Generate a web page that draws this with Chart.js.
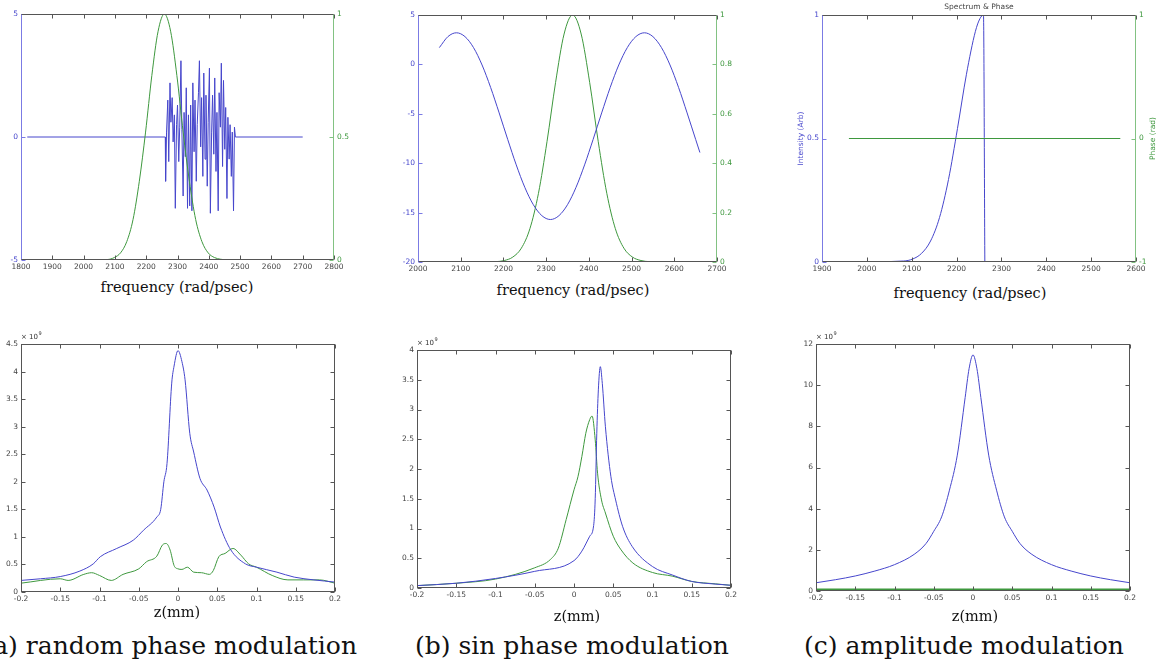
<!DOCTYPE html>
<html>
<head>
<meta charset="utf-8">
<title>Spectrum, phase and z-profile</title>
<script src="https://cdn.jsdelivr.net/npm/chart.js@4.4.1/dist/chart.umd.min.js"></script>
<style>
  body { margin: 0; background: #fff; width: 1156px; height: 668px; position: relative; overflow: hidden; }
  canvas { position: absolute; }
  .lab { position: absolute; width: 300px; text-align: center; font-family: "DejaVu Serif", serif; font-size: 14.5px; line-height: 15px; color: #111; white-space: nowrap; }
  .cap { position: absolute; font-family: "DejaVu Serif", serif; font-size: 25px; line-height: 25px; color: #111; white-space: nowrap; }
</style>
</head>
<body>
<canvas id="tl" width="360" height="275" style="left:0;top:0"></canvas>
<canvas id="tm" width="360" height="277" style="left:380px;top:0"></canvas>
<canvas id="tr" width="406" height="277" style="left:750px;top:0"></canvas>
<canvas id="bl" width="360" height="277" style="left:0;top:330px"></canvas>
<canvas id="bm" width="360" height="273" style="left:380px;top:330px"></canvas>
<canvas id="br" width="406" height="276" style="left:750px;top:330px"></canvas>

<div class="lab" style="left:27px;top:280px">frequency (rad/psec)</div>
<div class="lab" style="left:423px;top:283px">frequency (rad/psec)</div>
<div class="lab" style="left:820px;top:286px">frequency (rad/psec)</div>
<div class="lab" style="left:27px;top:605px">z(mm)</div>
<div class="lab" style="left:427px;top:609px">z(mm)</div>
<div class="lab" style="left:825px;top:609px">z(mm)</div>
<div class="cap" style="right:799px;top:633px">(a) random phase modulation</div>
<div class="cap" style="left:415px;top:633px">(b) sin phase modulation</div>
<div class="cap" style="left:804px;top:633px">(c) amplitude modulation</div>

<script>
// ---- (a) random phase: spectrum (right axis) and phase (left axis)
const aPhaseW = [1820, 2261, 2262, 2265, 2269, 2272, 2276, 2279, 2283, 2286, 2290, 2293, 2297, 2300, 2304, 2307, 2311, 2314, 2318, 2321, 2325, 2328, 2332, 2335, 2339, 2342, 2346, 2349, 2353, 2356, 2360, 2363, 2367, 2370, 2374, 2377, 2381, 2384, 2388, 2391, 2395, 2398, 2402, 2405, 2409, 2412, 2416, 2419, 2423, 2426, 2430, 2433, 2437, 2440, 2444, 2447, 2451, 2454, 2458, 2461, 2465, 2468, 2472, 2475, 2479, 2482, 2485, 2700];
const aPhaseV = [0, 0, -1.8, 0.2, 1.5, -1.0, 2.2, 0.6, 1.6, -0.2, 0.9, -2.9, 0.5, 1.3, -1.0, 0.4, 3.1, 0.3, -2.4, 1.0, -0.8, 2.0, -2.9, 0.9, -2.8, 1.3, -3.0, 2.2, -0.6, 1.5, -1.8, 0.5, 1.8, 3.1, -0.4, 1.6, -1.6, 2.6, -0.9, 1.7, -2.0, 0.6, 2.8, -3.1, 0.2, 1.7, -0.7, 2.4, -1.4, 1.0, -3.0, 1.8, 0.4, 3.0, -1.2, 2.3, -0.5, 1.2, -2.5, 0.8, -0.9, 0.5, -1.6, 0.2, -3.0, 0.4, 0, 0];
const aSpecW = [1820, 2076, 2098, 2118, 2138, 2158, 2178, 2198, 2218, 2238, 2258, 2278, 2298, 2318, 2338, 2358, 2378, 2398, 2418, 2438, 2466, 2700];
const aSpecV = [0, 0.002, 0.01, 0.029, 0.075, 0.165, 0.32, 0.52, 0.75, 0.93, 1, 0.93, 0.75, 0.52, 0.32, 0.165, 0.075, 0.029, 0.01, 0.003, 0, 0];

// ---- (b) sin phase
const bPhaseW = [2050, 2070, 2090, 2110, 2130, 2150, 2170, 2190, 2210, 2230, 2250, 2270, 2290, 2310, 2330, 2350, 2370, 2390, 2410, 2430, 2450, 2470, 2490, 2510, 2530, 2550, 2570, 2590, 2610, 2630, 2650, 2660];
const bPhaseV = [1.70, 2.81, 3.20, 2.81, 1.70, -0.06, -2.33, -4.91, -7.59, -10.17, -12.44, -14.20, -15.31, -15.70, -15.31, -14.20, -12.44, -10.17, -7.59, -4.91, -2.33, -0.06, 1.70, 2.81, 3.20, 2.81, 1.70, -0.06, -2.33, -4.91, -7.59, -8.92];
const bSpecW = [2050, 2182, 2202, 2222, 2242, 2262, 2282, 2302, 2322, 2342, 2362, 2382, 2402, 2422, 2442, 2462, 2482, 2502, 2522, 2542, 2670];
const bSpecV = [0, 0.0015, 0.006, 0.02, 0.056, 0.135, 0.278, 0.487, 0.726, 0.923, 1, 0.923, 0.726, 0.487, 0.278, 0.135, 0.056, 0.02, 0.006, 0.0015, 0];

// ---- (c) amplitude modulation
const cSpecW = [1960, 2082, 2102, 2122, 2142, 2162, 2182, 2202, 2222, 2242, 2252, 2260, 2263];
const cSpecV = [0, 0.004, 0.012, 0.035, 0.085, 0.18, 0.334, 0.54, 0.76, 0.934, 0.985, 1, 0];
const cPhaseW = [1960, 2565];
const cPhaseV = [0, 0];

// ---- z profiles (x 1e9)
const dBlueZ = [-0.2, -0.175, -0.15, -0.125, -0.108, -0.099, -0.078, -0.057, -0.044, -0.027, -0.022, -0.018, -0.014, -0.008, -0.005, 0, 0.005, 0.009, 0.015, 0.02, 0.028, 0.037, 0.046, 0.054, 0.067, 0.086, 0.1, 0.126, 0.148, 0.173, 0.2];
const dBlueV = [0.21, 0.24, 0.28, 0.38, 0.51, 0.64, 0.79, 0.94, 1.12, 1.36, 1.5, 2.0, 2.33, 3.79, 4.1, 4.38, 4.18, 3.85, 2.88, 2.54, 2.06, 1.85, 1.54, 1.18, 0.77, 0.51, 0.45, 0.36, 0.27, 0.22, 0.18];
const dGreenZ = [-0.2, -0.15, -0.14, -0.12, -0.11, -0.1, -0.085, -0.07, -0.05, -0.04, -0.027, -0.02, -0.015, -0.01, -0.005, 0, 0.005, 0.012, 0.02, 0.03, 0.04, 0.045, 0.052, 0.06, 0.07, 0.08, 0.09, 0.1, 0.12, 0.14, 0.16, 0.18, 0.2];
const dGreenV = [0.16, 0.24, 0.21, 0.32, 0.35, 0.30, 0.21, 0.32, 0.42, 0.55, 0.65, 0.85, 0.88, 0.76, 0.48, 0.42, 0.41, 0.45, 0.36, 0.35, 0.32, 0.39, 0.64, 0.70, 0.79, 0.67, 0.51, 0.45, 0.30, 0.22, 0.22, 0.22, 0.16];

const eBlueZ = [-0.2, -0.15, -0.1, -0.05, 0, 0.01, 0.02, 0.025, 0.027, 0.029, 0.031, 0.0335, 0.036, 0.04, 0.047, 0.053, 0.062, 0.074, 0.1, 0.125, 0.15, 0.176, 0.2];
const eBlueV = [0.04, 0.08, 0.16, 0.28, 0.46, 0.62, 0.87, 1.05, 1.5, 2.6, 3.33, 3.72, 3.44, 2.71, 1.87, 1.48, 1.03, 0.70, 0.36, 0.22, 0.11, 0.07, 0.045];
const eGreenZ = [-0.2, -0.15, -0.1, -0.05, -0.03, -0.02, -0.01, 0, 0.005, 0.01, 0.015, 0.02, 0.023, 0.027, 0.03, 0.035, 0.04, 0.05, 0.06, 0.075, 0.1, 0.125, 0.15, 0.18, 0.2];
const eGreenV = [0.04, 0.08, 0.15, 0.34, 0.48, 0.67, 1.15, 1.65, 1.87, 2.21, 2.6, 2.83, 2.89, 2.49, 1.93, 1.48, 1.26, 0.87, 0.64, 0.42, 0.26, 0.2, 0.11, 0.07, 0.045];

const fBlueZ = [-0.2, -0.175, -0.15, -0.125, -0.1, -0.075, -0.06, -0.05, -0.04, -0.03, -0.02, -0.01, -0.005, 0, 0.005, 0.01, 0.02, 0.03, 0.04, 0.05, 0.06, 0.075, 0.1, 0.125, 0.15, 0.175, 0.2];
const fBlueV = [0.40, 0.55, 0.73, 0.97, 1.28, 1.78, 2.3, 2.9, 3.6, 4.9, 6.6, 9.4, 10.8, 11.47, 10.8, 9.4, 6.6, 4.9, 3.6, 2.9, 2.3, 1.78, 1.28, 0.97, 0.73, 0.55, 0.40];
const fGreenZ = [-0.2, 0.2];
const fGreenV = [0.08, 0.08];

const BLUE = '#4646cc';
const GREEN = '#3e983e';
const AX_BLUE = '#7b7be4';
const AX_GREEN = '#82c282';
const AX = '#555';
const TICK_FONT = { family: '"DejaVu Sans", sans-serif', size: 7.5 };

const pts = (xs, ys) => xs.map((x, i) => ({ x, y: ys[i] }));
const fmt = v => String(Math.round(v * 1000) / 1000);

// box + inward ticks on all four sides, plus small annotations
function framePlugin(st) {
  return {
    id: 'frame',
    afterDraw(chart) {
      const { ctx, chartArea: a, scales } = chart;
      ctx.save();
      ctx.lineWidth = 1;
      const seg = (x1, y1, x2, y2, c) => {
        ctx.strokeStyle = c;
        ctx.beginPath(); ctx.moveTo(x1, y1); ctx.lineTo(x2, y2); ctx.stroke();
      };
      const L = Math.round(a.left) + 0.5, R = Math.round(a.right) - 0.5;
      const T = Math.round(a.top) + 0.5, B = Math.round(a.bottom) - 0.5;
      scales.x.ticks.forEach(t => {
        const px = Math.round(scales.x.getPixelForValue(t.value)) + 0.5;
        seg(px, B, px, B - 4, st.edgeB);
        seg(px, T, px, T + 4, st.edgeT);
      });
      scales.y.ticks.forEach(t => {
        const py = Math.round(scales.y.getPixelForValue(t.value)) + 0.5;
        seg(L, py, L + 4, py, st.edgeL);
        if (!scales.y2) seg(R, py, R - 4, py, st.edgeR);
      });
      if (scales.y2) {
        scales.y2.ticks.forEach(t => {
          const py = Math.round(scales.y2.getPixelForValue(t.value)) + 0.5;
          seg(R, py, R - 4, py, st.edgeR);
        });
      }
      seg(L - 0.5, T, R + 0.5, T, st.edgeT);
      seg(L - 0.5, B, R + 0.5, B, st.edgeB);
      seg(L, T, L, B, st.edgeL);
      seg(R, T, R, B, st.edgeR);

      (st.notes || []).forEach(n => {
        ctx.save();
        const size = n.size || 7.5;
        ctx.fillStyle = n.color || '#333';
        ctx.font = size + 'px "DejaVu Sans", sans-serif';
        ctx.textAlign = n.align || 'center';
        ctx.textBaseline = 'middle';
        const x = a.left + (n.fx || 0) * (a.right - a.left) + (n.dx || 0);
        const y = a.top + (n.fy || 0) * (a.bottom - a.top) + (n.dy || 0);
        ctx.translate(x, y);
        if (n.rot) ctx.rotate(n.rot);
        ctx.fillText(n.text, 0, 0);
        if (n.sup) {
          const w = ctx.measureText(n.text).width;
          ctx.font = (size - 2) + 'px "DejaVu Sans", sans-serif';
          ctx.textAlign = 'left';
          ctx.fillText(n.sup, w + 0.5, -3);
        }
        ctx.restore();
      });
      ctx.restore();
    }
  };
}

function axis(min, max, step, color, width, position) {
  return {
    type: 'linear', position, min, max,
    grid: { display: false, drawTicks: false }, border: { display: false },
    ticks: { stepSize: step, color, font: TICK_FONT, padding: 3, callback: fmt, autoSkip: false },
    afterFit: s => { s.width = width; }
  };
}

function xAxis(min, max, step) {
  return {
    type: 'linear', position: 'bottom', min, max,
    grid: { display: false, drawTicks: false }, border: { display: false },
    ticks: { stepSize: step, color: '#444', font: TICK_FONT, padding: 3, maxRotation: 0, autoSkip: false, callback: fmt },
    afterFit: s => { s.height = 15; }
  };
}

function line(data, color, axisId, smooth, width) {
  return {
    data, borderColor: color, borderWidth: width || 1, pointRadius: 0, yAxisID: axisId,
    tension: 0, cubicInterpolationMode: smooth ? 'monotone' : 'default'
  };
}

function panel(id, sets, scales, pad, frame) {
  return new Chart(document.getElementById(id), {
    type: 'line',
    data: { datasets: sets },
    options: {
      responsive: false, animation: false, devicePixelRatio: 1,
      layout: { padding: pad },
      scales,
      plugins: { legend: { display: false }, tooltip: { enabled: false } }
    },
    plugins: [framePlugin(frame)]
  });
}

const twinFrame = { edgeT: AX, edgeB: AX, edgeL: AX_BLUE, edgeR: AX_GREEN };
const plainFrame = { edgeT: AX, edgeB: AX, edgeL: AX, edgeR: AX };
const exp9 = { text: '× 10', sup: '9', align: 'left', dx: 0, dy: -7, size: 7 };

panel('tl', [
  line(pts(aSpecW, aSpecV), GREEN, 'y2', true),
  line(pts(aPhaseW, aPhaseV), BLUE, 'y', false)
], {
  x: xAxis(1800, 2800, 100),
  y: axis(-5, 5, 5, BLUE, 21, 'left'),
  y2: axis(0, 1, 0.5, GREEN, 26, 'right')
}, { top: 14 }, twinFrame);

panel('tm', [
  line(pts(bPhaseW, bPhaseV), BLUE, 'y', true),
  line(pts(bSpecW, bSpecV), GREEN, 'y2', true)
], {
  x: xAxis(2000, 2700, 100),
  y: axis(-20, 5, 5, BLUE, 38, 'left'),
  y2: axis(0, 1, 0.2, GREEN, 23, 'right')
}, { top: 15 }, twinFrame);

panel('tr', [
  line(pts(cPhaseW, cPhaseV), GREEN, 'y2', false),
  line(pts(cSpecW, cSpecV), BLUE, 'y', true)
], {
  x: xAxis(1900, 2600, 100),
  y: axis(0, 1, 0.5, BLUE, 72, 'left'),
  y2: axis(-1, 1, 1, GREEN, 20, 'right')
}, { top: 15 }, Object.assign({}, twinFrame, {
  notes: [
    { text: 'Spectrum & Phase', fx: 0.5, dy: -8, color: '#444' },
    { text: 'Intensity (Arb)', fy: 0.5, dx: -21, rot: -Math.PI / 2, color: BLUE },
    { text: 'Phase (rad)', fx: 1, fy: 0.5, dx: 17, rot: -Math.PI / 2, color: GREEN },
    { text: 'w(rad/ps)', fx: 0.5, fy: 1, dy: 19, color: '#444' }
  ]
}));

panel('bl', [
  line(pts(dBlueZ, dBlueV), BLUE, 'y', true),
  line(pts(dGreenZ, dGreenV), GREEN, 'y', true)
], {
  x: xAxis(-0.2, 0.2, 0.05),
  y: axis(0, 4.5, 0.5, '#444', 21, 'left')
}, { top: 14, right: 25 }, Object.assign({}, plainFrame, { notes: [exp9] }));

panel('bm', [
  line(pts(eBlueZ, eBlueV), BLUE, 'y', true),
  line(pts(eGreenZ, eGreenV), GREEN, 'y', true)
], {
  x: xAxis(-0.2, 0.2, 0.05),
  y: axis(0, 4, 0.5, '#444', 37, 'left')
}, { top: 20, right: 8 }, Object.assign({}, plainFrame, { notes: [exp9] }));

panel('br', [
  line(pts(fBlueZ, fBlueV), BLUE, 'y', true),
  line(pts(fGreenZ, fGreenV), GREEN, 'y', false, 1.5)
], {
  x: xAxis(-0.2, 0.2, 0.05),
  y: axis(0, 12, 2, '#444', 66, 'left')
}, { top: 14, right: 26 }, Object.assign({}, plainFrame, { notes: [exp9] }));
</script>
</body>
</html>
